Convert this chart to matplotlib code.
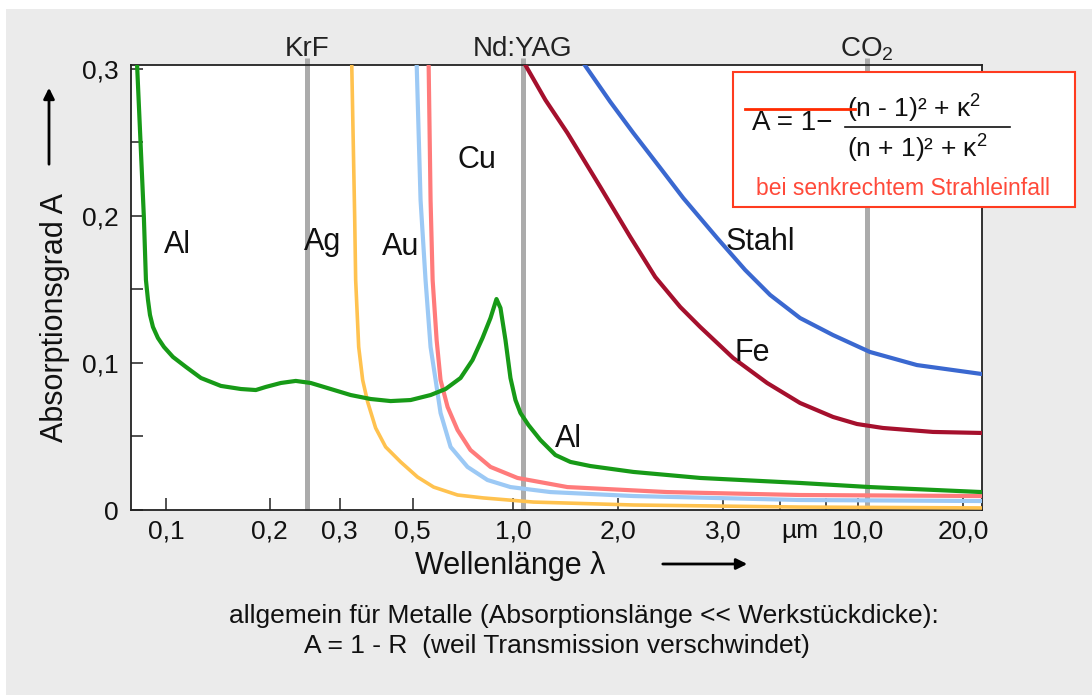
import numpy as np
import matplotlib
matplotlib.use("Agg")
import matplotlib.pyplot as plt
from matplotlib.patches import Rectangle, FancyArrowPatch
from matplotlib.lines import Line2D

plt.rcParams['font.family'] = ['Liberation Sans', 'DejaVu Sans']
plt.rcParams['mathtext.fontset'] = 'custom'
plt.rcParams['mathtext.rm'] = 'Liberation Sans'
plt.rcParams['mathtext.it'] = 'Liberation Sans'
plt.rcParams['mathtext.bf'] = 'Liberation Sans:bold'

# ---- data (wavelength in um, absorption A) ----
al_lam = [0.0824, 0.0863, 0.0875, 0.0887, 0.0899, 0.0917, 0.0948, 0.0987, 0.1048, 0.1143,
          0.1263, 0.1443, 0.1649, 0.1822, 0.1947, 0.2132, 0.2325, 0.2536, 0.2848, 0.324,
          0.3727, 0.4287, 0.4931, 0.5657, 0.6272, 0.6951, 0.7547, 0.8084, 0.854, 0.8899,
          0.9146, 0.9466, 0.9796, 1.0133, 1.0473, 1.1041, 1.1951, 1.3195, 1.4569, 1.6628,
          2.119, 2.745, 5.96, 10.82, 22.67]
al_abs = [0.305, 0.1993, 0.1565, 0.1429, 0.1327, 0.1245, 0.117, 0.1109, 0.1041, 0.0973,
          0.0898, 0.0844, 0.0823, 0.0816, 0.0837, 0.0864, 0.0878, 0.0864, 0.0823, 0.0782,
          0.0755, 0.0741, 0.0748, 0.0782, 0.0823, 0.0898, 0.102, 0.117, 0.1306, 0.1435,
          0.1374, 0.1156, 0.0898, 0.0748, 0.066, 0.0578, 0.0476, 0.0374, 0.0327, 0.0299,
          0.0259, 0.0218, 0.0184, 0.0156, 0.0122]

ag_lam = [0.3263, 0.3332, 0.3355, 0.3427, 0.3524, 0.3649, 0.3859, 0.4139, 0.4597, 0.5174,
          0.5777, 0.681, 0.814, 1.141, 2.119, 5.96, 22.67]
ag_abs = [0.305, 0.1993, 0.1565, 0.1109, 0.0884, 0.0735, 0.0558, 0.0429, 0.0327, 0.0224,
          0.0156, 0.0102, 0.0082, 0.0054, 0.0034, 0.002, 0.0014]

au_lam = [0.5139, 0.5281, 0.5465, 0.5657, 0.5857, 0.6059, 0.6492, 0.7293, 0.8364, 0.9796,
          1.2765, 2.119, 5.96, 22.67]
au_abs = [0.305, 0.2109, 0.1565, 0.1109, 0.0884, 0.066, 0.0429, 0.0293, 0.0204, 0.0156,
          0.0122, 0.0095, 0.0068, 0.0061]

cu_lam = [0.5581, 0.5657, 0.5738, 0.5898, 0.6059, 0.6359, 0.681, 0.7441, 0.854, 1.0268,
          1.4283, 2.4166, 5.96, 22.67]
cu_abs = [0.305, 0.2109, 0.1565, 0.1156, 0.0884, 0.0701, 0.0544, 0.0408, 0.0293, 0.0218,
          0.0156, 0.0122, 0.0102, 0.0095]

fe_lam = [1.068, 1.2353, 1.4283, 1.776, 2.0949, 2.307, 2.541, 2.745, 3.28, 4.442, 5.96,
          8.0, 9.91, 11.79, 16.41, 22.67]
fe_abs = [0.305, 0.2789, 0.2565, 0.2197, 0.1857, 0.1585, 0.1381, 0.1245, 0.1034, 0.0864,
          0.0728, 0.0633, 0.0585, 0.0558, 0.0531, 0.0524]

st_lam = [1.577, 1.897, 2.119, 2.352, 2.571, 2.931, 3.65, 4.562, 5.96, 8.0, 10.82, 14.76, 22.67]
st_abs = [0.305, 0.2776, 0.2565, 0.2327, 0.2122, 0.185, 0.1633, 0.1463, 0.1306, 0.119,
          0.1075, 0.0986, 0.0925]

lasers = ['KrF', 'Nd:YAG', 'CO$_2$']
laser_lam = [0.248, 1.064, 10.6]

xticks = [0.1, 0.2, 0.3, 0.5, 1.0, 2.0, 3.0, 10.0, 20.0]
xticklabels = ['0,1', '0,2', '0,3', '0,5', '1,0', '2,0', '3,0', '10,0', '20,0']
xminor = [5.0, 7.5]
yticks = [0, 0.1, 0.2, 0.3]
yticklabels = ['0', '0,1', '0,2', '0,3']
yminor = [0.05, 0.15, 0.25]

# the wavelength axis of the original is drawn piecewise, knots = tick spacing
knot_lam = np.log10([0.05, 0.1, 0.2, 0.3, 0.5, 1.0, 2.0, 3.0, 10.0, 20.0, 40.0])
knot_pos = [61, 165, 269, 339, 412, 513, 618, 723, 858, 963, 1068]


def fwd(x):
    x = np.clip(np.asarray(x, dtype=float), 1e-4, None)
    return np.interp(np.log10(x), knot_lam, knot_pos)


def inv(p):
    return 10 ** np.interp(p, knot_pos, knot_lam)


W, H = 1092, 695
fig = plt.figure(figsize=(W / 100, H / 100), dpi=100)
fig.patch.set_facecolor('white')
fig.add_artist(Rectangle((6 / W, 0), 1 - 6 / W, 1 - 9 / H, transform=fig.transFigure,
                         facecolor='#ebebeb', edgecolor='none', zorder=-10))

ax = fig.add_axes([131 / W, 1 - 510 / H, (982 - 131) / W, (510 - 65) / H])
ax.set_facecolor('white')
ax.set_xscale('function', functions=(fwd, inv))
ax.set_xlim(0.0792, 22.7)
ax.set_ylim(0, 0.3027)

# laser lines
for name, lam in zip(lasers, laser_lam):
    ax.vlines(lam, 0, 0.3075, color='#ababab', lw=3.6, clip_on=False, zorder=1)
    ax.text(lam, 0.3135, name, ha='center', va='center', fontsize=20, color='#222222')

ax.plot(ag_lam, ag_abs, color='#ffc24f', lw=2.6, zorder=3)
ax.plot(au_lam, au_abs, color='#9cc9f5', lw=3, zorder=3)
ax.plot(cu_lam, cu_abs, color='#ff7b7b', lw=3, zorder=3)
ax.plot(al_lam, al_abs, color='#179a17', lw=3, zorder=4)
ax.plot(fe_lam, fe_abs, color='#a5102d', lw=3, zorder=3)
ax.plot(st_lam, st_abs, color='#3a68d0', lw=3, zorder=3)

labels = [('Al', 0.108, 0.180), ('Ag', 0.272, 0.182), ('Au', 0.46, 0.179),
          ('Cu', 0.776, 0.238), ('Stahl', 4.17, 0.182), ('Fe', 3.885, 0.107),
          ('Al', 1.438, 0.048)]
for t, lx, ly in labels:
    ax.text(lx, ly, t, ha='center', va='center', fontsize=22, color='#111111', zorder=5)

ax.set_xticks(xticks)
ax.set_xticklabels(xticklabels)
ax.set_xticks(xminor, minor=True)
ax.set_yticks(yticks)
ax.set_yticklabels(yticklabels)
ax.set_yticks(yminor, minor=True)
ax.tick_params(which='both', direction='in', length=8.6, width=1.1, color='#222222',
               labelsize=19, labelcolor='#111111')
ax.tick_params(axis='x', pad=7)
ax.tick_params(axis='y', pad=9)
for s in ax.spines.values():
    s.set_linewidth(1.3)
    s.set_color('#222222')

ax.text(5.96, -0.047, 'µm', transform=ax.get_xaxis_transform(), ha='center', va='center',
        fontsize=19, color='#111111')

# axis titles with arrows
fig.text(55 / W, 1 - 318 / H, 'Absorptionsgrad A', rotation=90, ha='center', va='center',
         fontsize=22, color='#111111')
fig.text(510 / W, 1 - 566 / H, 'Wellenlänge λ', ha='center', va='center',
         fontsize=22, color='#111111')
fig.add_artist(FancyArrowPatch((49 / W, 1 - 167 / H), (49 / W, 1 - 85 / H),
                               transform=fig.transFigure, arrowstyle='-|>',
                               mutation_scale=16, lw=2, color='black'))
fig.add_artist(FancyArrowPatch((660 / W, 1 - 564 / H), (750 / W, 1 - 564 / H),
                               transform=fig.transFigure, arrowstyle='-|>',
                               mutation_scale=16, lw=2, color='black'))

# formula box
fig.add_artist(Rectangle((733 / W, 1 - 207 / H), 342 / W, 135 / H, transform=fig.transFigure,
                         facecolor='white', edgecolor='#ff3b1f', lw=1.5, zorder=10))
fig.text(752 / W, 1 - 123 / H, 'A = 1\u2212', ha='left', va='center', fontsize=20,
         color='#111111', zorder=11)
fig.text(847 / W, 1 - 109 / H, '(n - 1)\u00b2 + \u03ba$^2$', ha='left', va='center',
         fontsize=19, color='#111111', zorder=11)
fig.text(847 / W, 1 - 149 / H, '(n + 1)\u00b2 + \u03ba$^2$', ha='left', va='center',
         fontsize=19, color='#111111', zorder=11)
fig.add_artist(Line2D([845 / W, 1010 / W], [1 - 127 / H, 1 - 127 / H], transform=fig.transFigure,
                      color='#111111', lw=1.2, zorder=12))
fig.add_artist(Line2D([745 / W, 855 / W], [1 - 109 / H, 1 - 109 / H], transform=fig.transFigure,
                      color='#ff2a00', lw=2, zorder=12))
fig.text(903 / W, 1 - 189 / H, 'bei senkrechtem Strahleinfall', ha='center', va='center',
         fontsize=16.5, color='#ff4a3a', zorder=11)

fig.text(584 / W, 1 - 616 / H, 'allgemein für Metalle (Absorptionslänge << Werkstückdicke):',
         ha='center', va='center', fontsize=19, color='#111111')
fig.text(557 / W, 1 - 646 / H, 'A = 1 - R  (weil Transmission verschwindet)',
         ha='center', va='center', fontsize=19, color='#111111')

fig.savefig('out.png', dpi=100, facecolor=fig.get_facecolor())
